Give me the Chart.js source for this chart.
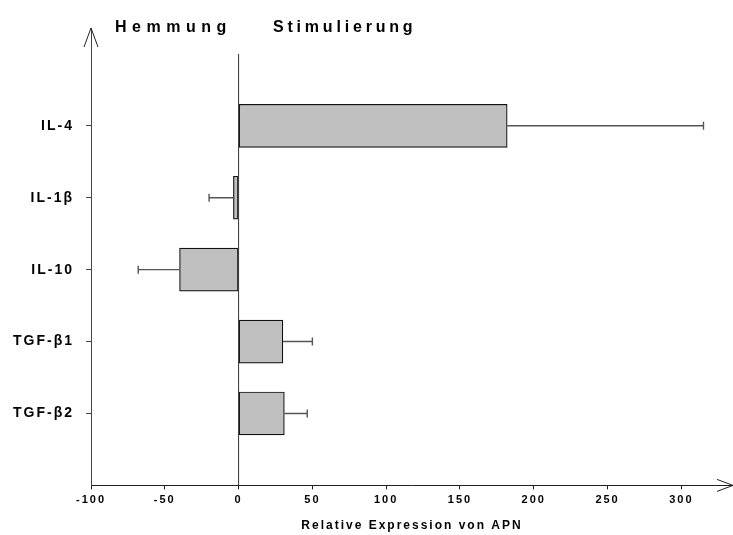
<!DOCTYPE html>
<html>
<head>
<meta charset="utf-8">
<script src="https://cdn.jsdelivr.net/npm/chart.js@4.4.1/dist/chart.umd.min.js"></script>
<style>
  html, body { margin: 0; padding: 0; background: #fff; }
  #wrap { width: 733px; height: 535px; position: relative; }
</style>
</head>
<body>
<div id="wrap"><canvas id="chart"></canvas></div>
<script>
// chart data
const categories = ['IL-4', 'IL-1β', 'IL-10', 'TGF-β1', 'TGF-β2'];
const values = [182, -3.5, -40, 30, 31];
const errorEnds = [315, -20, -68, 50, 46.5];
const xTicks = [-100, -50, 0, 50, 100, 150, 200, 250, 300];
const leftTitle = 'Hemmung';
const rightTitle = 'Stimulierung';
const xTitle = 'Relative Expression von APN';

const FONT = '"Liberation Sans", Arial, sans-serif';

// error bars, zero line, arrows, top captions
const decorPlugin = {
    id: 'decor',
    beforeDraw(chart) {
        chart.ctx.letterSpacing = '2px';
    },
    afterDatasetsDraw(chart) {
        const ctx = chart.ctx;
        const xs = chart.scales.x;
        const ys = chart.scales.y;
        ctx.save();
        ctx.strokeStyle = '#555';
        ctx.lineWidth = 1.4;
        values.forEach((v, i) => {
            const yc = ys.getPixelForValue(i + 1);
            const x0 = xs.getPixelForValue(v);
            const x1 = xs.getPixelForValue(errorEnds[i]);
            ctx.beginPath();
            ctx.moveTo(x0, yc);
            ctx.lineTo(x1, yc);
            ctx.moveTo(x1, yc - 4);
            ctx.lineTo(x1, yc + 4);
            ctx.stroke();
        });
        // zero line
        const xz = xs.getPixelForValue(0);
        ctx.strokeStyle = '#333';
        ctx.lineWidth = 1;
        ctx.beginPath();
        ctx.moveTo(xz, ys.getPixelForValue(0));
        ctx.lineTo(xz, chart.chartArea.bottom);
        ctx.stroke();
        ctx.restore();
    },
    afterDraw(chart) {
        const ctx = chart.ctx;
        const a = chart.chartArea;
        ctx.save();
        ctx.strokeStyle = '#222';
        ctx.lineWidth = 1;
        // y arrow
        ctx.beginPath();
        ctx.moveTo(a.left - 7, a.top + 19);
        ctx.lineTo(a.left, a.top);
        ctx.lineTo(a.left + 7, a.top + 19);
        ctx.stroke();
        // x arrow
        ctx.beginPath();
        ctx.moveTo(a.right - 16, a.bottom - 6);
        ctx.lineTo(a.right, a.bottom);
        ctx.lineTo(a.right - 16, a.bottom + 6);
        ctx.stroke();
        // captions
        ctx.fillStyle = '#000';
        ctx.font = 'bold 16px ' + FONT;
        ctx.textBaseline = 'alphabetic';
        ctx.textAlign = 'left';
        ctx.letterSpacing = '5.5px';
        ctx.fillText(leftTitle, 115, 32);
        ctx.letterSpacing = '3.8px';
        ctx.fillText(rightTitle, 273, 32);
        ctx.restore();
    }
};

new Chart(document.getElementById('chart'), {
    type: 'bar',
    data: {
        datasets: [{
            data: values.map((v, i) => ({ x: v, y: i + 1 })),
            backgroundColor: '#c0c0c0',
            borderColor: '#111',
            borderWidth: 1.2,
            borderSkipped: false,
            barThickness: 43
        }]
    },
    options: {
        indexAxis: 'y',
        responsive: true,
        maintainAspectRatio: false,
        animation: false,
        layout: { padding: { top: 28, right: 0, bottom: 0, left: 0 } },
        plugins: {
            legend: { display: false },
            tooltip: { enabled: false }
        },
        scales: {
            x: {
                type: 'linear',
                min: -100,
                max: 335,
                afterBuildTicks: s => { s.ticks = xTicks.map(v => ({ value: v })); },
                grid: { display: true, drawOnChartArea: false, drawTicks: true, tickLength: 4, color: '#222' },
                border: { display: true, color: '#222', width: 1 },
                ticks: {
                    color: '#000',
                    padding: 4,
                    maxRotation: 0,
                    font: { family: FONT, size: 11, weight: 'bold' }
                },
                title: {
                    display: true,
                    text: xTitle,
                    color: '#000',
                    padding: { top: 8, bottom: 2 },
                    font: { family: FONT, size: 12, weight: 'bold' }
                }
            },
            y: {
                type: 'linear',
                reverse: true,
                offset: false,
                min: -0.36,
                max: 6,
                afterFit: s => { s.width = 91; },
                afterBuildTicks: s => { s.ticks = categories.map((c, i) => ({ value: i + 1 })); },
                grid: { display: true, offset: false, drawOnChartArea: false, drawTicks: true, tickLength: 5, color: '#444' },
                border: { display: true, color: '#444', width: 1 },
                ticks: {
                    color: '#000',
                    padding: 12,
                    font: { family: FONT, size: 14, weight: 'bold' },
                    callback: v => categories[v - 1]
                }
            }
        }
    },
    plugins: [decorPlugin]
});
</script>
</body>
</html>
